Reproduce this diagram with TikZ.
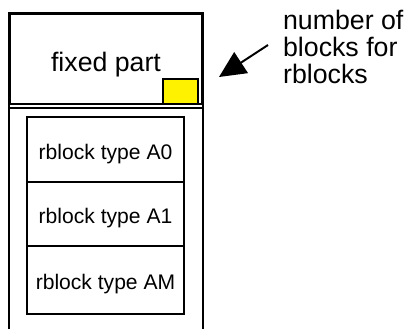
\documentclass[tikz,border=0pt]{standalone}
\usepackage{fontspec}
\setmainfont{Liberation Sans}
\usetikzlibrary{arrows.meta}

\tikzset{
  part/.style={draw, inner sep=0pt, minimum width=4.8cm, minimum height=2.25cm,
    font=\fontsize{19}{20}\selectfont, text height=0.6cm, text depth=0pt},
  rblk/.style={draw, inner sep=0pt, minimum width=3.925cm,
    font=\fontsize{15}{18}\selectfont, text height=0.48cm, text depth=0pt},
  counter/.style={draw, fill=yellow, inner sep=0pt, minimum width=0.875cm, minimum height=0.625cm},
}

\begin{document}
\begin{tikzpicture}[x=0.025cm, y=-0.025cm, line width=1.6pt]
  \useasboundingbox (0,0) rectangle (406,329);
  \node[part] (fixed) at (106,59) {fixed part};
  \node[counter] (cnt) at (180.5,91.5) {};
  \draw (fixed.south west |- 0,329) -- (fixed.north west) -- (fixed.north east) -- (fixed.south east |- 0,329);
  \draw (10,108) -- (202,108);
  \node[rblk, minimum height=1.625cm] (a0) at (105.5,149.5) {rblock type A0};
  \node[rblk, minimum height=1.6cm] (a1) at (105.5,214) {rblock type A1};
  \node[rblk, minimum height=1.7cm] (am) at (105.5,280) {rblock type AM};
  % base is the last line here
  \node[anchor=base west, align=left, font=\fontsize{19}{19.2}\selectfont, inner sep=0pt] (note) at (282,83)
    {number of\\blocks for\\rblocks};
  \coordinate (tail) at (268,45);
  \coordinate (tip) at (219,77);
  \draw[line width=1.4pt, -{Triangle[length=0.66cm,width=0.62cm]}] (tail) -- (tip);
\end{tikzpicture}
\end{document}
